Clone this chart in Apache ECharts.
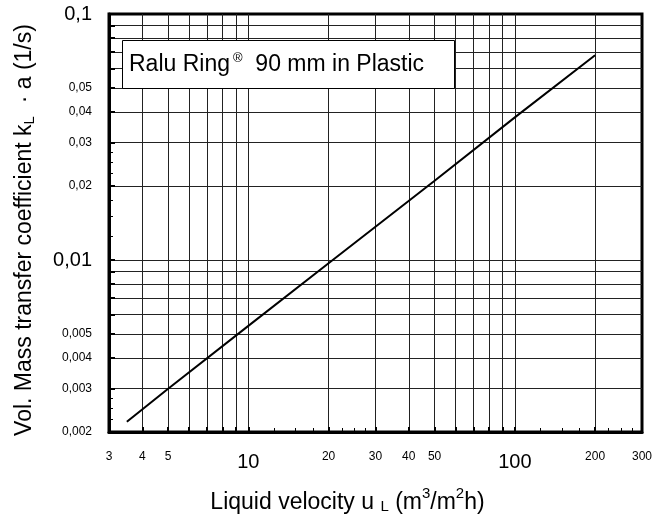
<!DOCTYPE html>
<html>
<head>
<meta charset="utf-8">
<script src="https://cdn.jsdelivr.net/npm/echarts@6/dist/echarts.min.js"></script>
<style>
  html, body { margin: 0; padding: 0; background: #fff; }
  #chart { width: 654px; height: 516px; }
</style>
</head>
<body>
<div id="chart"></div>
<script>
// liquid velocity u_L (m3/m2h) and kL*a (1/s)
const velocity = [3.5, 5, 10, 20, 50, 100, 200];
const klA = [0.0022, 0.003, 0.0054, 0.0097, 0.021, 0.038, 0.068];

// x axis: grid lines, labels, small extra ticks
const xGrid = [4, 5, 6, 7, 8, 9, 10, 20, 30, 40, 50, 60, 70, 80, 90, 100, 200];
const xLabels = [3, 4, 5, 10, 20, 30, 40, 50, 100, 200, 300];
const xMinor = [12.5, 15, 17.5, 22.5, 25, 27.5, 125, 150, 175, 225, 250, 275];
const xBig = [10, 100];

// y axis
const yGrid = [0.003, 0.004, 0.005, 0.006, 0.007, 0.008, 0.009, 0.01, 0.02, 0.03,
  0.04, 0.05, 0.06, 0.07, 0.08, 0.09];
const yLabels = [0.002, 0.003, 0.004, 0.005, 0.01, 0.02, 0.03, 0.04, 0.05, 0.1];
const yMinor = [0.00225, 0.0025, 0.00275, 0.0125, 0.015, 0.0175, 0.0225, 0.025, 0.0275];
const yBig = [0.01, 0.1];

function fmt(v, big) {
  let n = Number(Number(v).toPrecision(6));
  let s = String(n).replace(".", ",");
  let isBig = big.some(b => Math.abs(b - n) < 1e-9);
  return isBig ? "{b|" + s + "}" : "{s|" + s + "}";
}

let chart = echarts.init(document.getElementById("chart"));
let option = {
  backgroundColor: "#fff",
  animation: false,
  textStyle: { fontFamily: "Liberation Sans, Arial, sans-serif", color: "#000" },
  title: {
    text: "{a|Ralu Ring}{r|®}{a|  90 mm in Plastic}",
    left: 122,
    top: 40,
    padding: [12, 31, 12, 7],
    backgroundColor: "#fff",
    borderColor: "#000",
    borderWidth: 1,
    textStyle: {
      fontWeight: "normal",
      rich: {
        a: { fontSize: 23, lineHeight: 26, fontWeight: "normal", color: "#000" },
        r: { fontSize: 13, lineHeight: 13, fontWeight: "normal", verticalAlign: "top", color: "#000", padding: [0, 0, 0, 3] }
      }
    }
  },
  grid: {
    left: 109,
    right: 12,
    top: 14,
    bottom: 84,
    outerBoundsMode: "none",
    containLabel: false,
    show: true,
    borderColor: "#000",
    borderWidth: 3,
    backgroundColor: "transparent"
  },
  xAxis: [
    {
      type: "log",
      logBase: 10,
      min: 3,
      max: 300,
      position: "bottom",
      name: "{n|Liquid velocity u }{sub|L}{n| (m}{sup|3}{n|/m}{sup|2}{n|h)}",
      nameLocation: "middle",
      nameGap: 54,
      nameTextStyle: {
        fontSize: 23,
        color: "#000",
        padding: [0, 56, 0, 0],
        rich: {
          n: { fontSize: 23, lineHeight: 28, verticalAlign: "bottom" },
          sub: { fontSize: 15, lineHeight: 15, verticalAlign: "bottom" },
          sup: { fontSize: 15, lineHeight: 15, verticalAlign: "top" }
        }
      },
      axisLine: { show: true, lineStyle: { color: "#000", width: 3 } },
      axisTick: {
        show: true,
        inside: true,
        length: 5,
        customValues: xGrid,
        lineStyle: { color: "#000", width: 2 }
      },
      splitLine: { show: true, lineStyle: { color: "#222", width: 1 } },
      minorTick: { show: false },
      axisLabel: {
        customValues: xLabels,
        margin: 19,
        color: "#000",
        formatter: v => fmt(v, xBig),
        rich: {
          s: { fontSize: 12 },
          b: { fontSize: 20, padding: [1, 0, 0, 0] }
        }
      }
    },
    {
      type: "log",
      logBase: 10,
      min: 3,
      max: 300,
      position: "bottom",
      axisLine: { show: false },
      axisTick: {
        show: true,
        inside: true,
        length: 4,
        customValues: xMinor,
        lineStyle: { color: "#000", width: 1 }
      },
      splitLine: { show: false },
      axisLabel: { show: false }
    }
  ],
  yAxis: [
    {
      type: "log",
      logBase: 10,
      min: 0.002,
      max: 0.1,
      position: "left",
      name: "Vol. Mass transfer coefficient k{sub|L}  · a (1/s)",
      nameLocation: "middle",
      nameGap: 72,
      nameRotate: 90,
      nameTextStyle: {
        fontSize: 23,
        color: "#000",
        padding: [0, 14, 0, 0],
        rich: {
          sub: { fontSize: 15, verticalAlign: "bottom", padding: [10, 0, 0, 0] }
        }
      },
      axisLine: { show: true, lineStyle: { color: "#000", width: 3 } },
      axisTick: {
        show: true,
        inside: true,
        length: 6,
        customValues: yGrid,
        lineStyle: { color: "#000", width: 2 }
      },
      splitLine: { show: true, lineStyle: { color: "#222", width: 1 } },
      axisLabel: {
        customValues: yLabels,
        margin: 17,
        color: "#000",
        formatter: v => fmt(v, yBig),
        rich: {
          s: { fontSize: 12 },
          b: { fontSize: 20 }
        }
      }
    },
    {
      type: "log",
      logBase: 10,
      min: 0.002,
      max: 0.1,
      position: "left",
      axisLine: { show: false },
      axisTick: {
        show: true,
        inside: true,
        length: 4,
        customValues: yMinor,
        lineStyle: { color: "#000", width: 1 }
      },
      splitLine: { show: false },
      axisLabel: { show: false }
    }
  ],
  series: [
    {
      type: "line",
      xAxisIndex: 0,
      yAxisIndex: 0,
      symbol: "none",
      silent: true,
      lineStyle: { color: "#000", width: 2 },
      data: velocity.map((u, i) => [u, klA[i]])
    }
  ]
};
chart.setOption(option);
</script>
</body>
</html>
